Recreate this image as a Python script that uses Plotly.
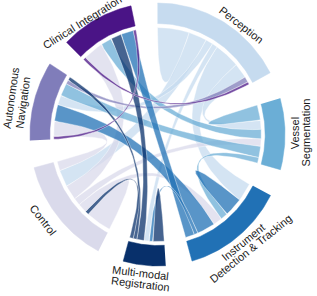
import numpy as np
import plotly.graph_objects as go

# ---------------- data ----------------
groups = ["Perception", "Vessel Segmentation", "Instrument Detection & Tracking",
          "Multi-modal Registration", "Control", "Autonomous Navigation", "Clinical Integration"]
label_lines = [["Perception"], ["Vessel", "Segmentation"], ["Instrument", "Detection & Tracking"],
               ["Multi-modal", "Registration"], ["Control"], ["Autonomous", "Navigation"],
               ["Clinical Integration"]]
group_colors = ["#c6dbef", "#6baed6", "#2171b5", "#08306b", "#dadaeb", "#807dba", "#4a1486"]

# chords (group indices: 0 P, 1 V, 2 I, 3 M, 4 C, 5 A, 6 CI), listed in drawing order
chord_a = [0, 0, 0, 0, 0, 0, 4, 4, 4, 4, 4, 1, 1, 1, 1, 5, 2, 2, 2, 2, 3, 3, 3, 3, 6, 6]
chord_b = [0, 4, 2, 1, 5, 3, 4, 6, 5, 1, 2, 1, 5, 6, 2, 0, 2, 5, 6, 3, 3, 6, 5, 4, 0, 5]
value_a = [17.5, 10, 14, 8, 4, 3, 14, 8, 5, 4, 5, 8, 6, 5, 3, 2, 10, 10, 5, 2, 6, 4, 2, 2, 1.5, 1.5]
value_b = [17.5, 9, 10, 5, 5, 3, 14, 11, 8, 4, 5, 8, 7, 6, 4, 3, 10, 9, 7, 2, 6, 6, 2, 2, 1.5, 1.5]
chord_color = [0, 0, 0, 0, 0, 0, 4, 4, 4, 4, 4, 1, 1, 1, 1, 5, 2, 2, 2, 2, 3, 3, 3, 3, 6, 6]
# clockwise slot of each chord end inside its group
slot_a = [0, 1, 4, 5, 2, 3, 0, 4, 6, 3, 2, 0, 5, 2, 5, 4, 1, 4, 6, 5, 0, 3, 4, 5, 0, 5]
slot_b = [0, 5, 0, 1, 3, 2, 0, 1, 1, 4, 3, 0, 3, 2, 2, 6, 1, 2, 4, 1, 0, 3, 6, 1, 7, 0]

# ---------------- layout (d3.chord-like) ----------------
n = len(groups)
pad = np.deg2rad(12)
ends = {g: [] for g in range(n)}
for i in range(len(chord_a)):
    ends[chord_a[i]].append((slot_a[i], i, "a", value_a[i]))
    if chord_a[i] != chord_b[i]:
        ends[chord_b[i]].append((slot_b[i], i, "b", value_b[i]))
totals = [sum(e[3] for e in ends[g]) for g in range(n)]
k = (2 * np.pi - n * pad) / sum(totals)

group_span = []
end_angles = {}
x = 0.0
for g in range(n):
    x0 = x
    for s, i, side, v in sorted(ends[g]):
        end_angles[(i, side)] = (x, x + v * k)
        x += v * k
    group_span.append((x0, x))
    x += pad

R_RIB, R_IN, R_OUT = 107, 111, 131.5


def pt(r, a):
    return np.array([r * np.sin(a), r * np.cos(a)])


def arc(r, a0, a1, m=48):
    t = np.linspace(a0, a1, m)
    return np.column_stack([r * np.sin(t), r * np.cos(t)])


def bez(p0, p2, m=48):
    t = np.linspace(0, 1, m)[:, None]
    return (1 - t) ** 2 * p0 + t ** 2 * p2


def rgba(hx, a):
    hx = hx.lstrip("#")
    return "rgba(%d,%d,%d,%.2f)" % (int(hx[0:2], 16), int(hx[2:4], 16), int(hx[4:6], 16), a)


fig = go.Figure()

for i in range(len(chord_a)):
    s0, s1 = end_angles[(i, "a")]
    if chord_a[i] == chord_b[i]:
        pts = np.vstack([arc(R_RIB, s0, s1), bez(pt(R_RIB, s1), pt(R_RIB, s0))])
    else:
        t0, t1 = end_angles[(i, "b")]
        pts = np.vstack([arc(R_RIB, s0, s1), bez(pt(R_RIB, s1), pt(R_RIB, t0)),
                         arc(R_RIB, t0, t1), bez(pt(R_RIB, t1), pt(R_RIB, s0))])
    fig.add_trace(go.Scatter(x=pts[:, 0], y=pts[:, 1], mode="lines", fill="toself",
                             fillcolor=rgba(group_colors[chord_color[i]], 0.75),
                             line=dict(color="rgba(255,255,255,0.7)", width=0.6),
                             hoverinfo="skip", showlegend=False))

for g in range(n):
    a0, a1 = group_span[g]
    pts = np.vstack([arc(R_OUT, a0, a1), arc(R_IN, a1, a0)])
    fig.add_trace(go.Scatter(x=pts[:, 0], y=pts[:, 1], mode="lines", fill="toself",
                             fillcolor=group_colors[g], line=dict(color=group_colors[g], width=0.5),
                             hoverinfo="skip", showlegend=False))

# page geometry: the reference circle is slightly narrower than tall
W, H = 317, 296
cx, cy, sx = 157.5, 134.5, 0.97

# labels: per line (angle deg, radius) and rotation per group (styling)
label_pos = [[(51.7, 139.5)],
             [(0.6, 142.0), (0.9, 153.5)],
             [(-50.5, 139.0), (-49.6, 149.5)],
             [(-97.0, 140.0), (-96.6, 151.0)],
             [(-144.0, 146.0)],
             [(166.4, 155.5), (167.2, 142.5)],
             [(124.5, 136.5)]]
label_rot = [38, -90, -39, 7, 52, -82, -32]
annotations = []
for g in range(n):
    for txt, (th, r) in zip(label_lines[g], label_pos[g]):
        t = np.deg2rad(th)
        px = cx + r * np.cos(t) * sx
        py = cy - r * np.sin(t)
        annotations.append(dict(x=px / W, y=1 - py / H, xref="paper", yref="paper", text=txt,
                                showarrow=False, textangle=label_rot[g],
                                xanchor="center", yanchor="middle", borderpad=0,
                                font=dict(family="Liberation Sans, Arial, sans-serif", size=11,
                                          color="#1a1a1a")))

fig.update_layout(width=W, height=H, margin=dict(l=0, r=0, t=0, b=0),
                  paper_bgcolor="white", plot_bgcolor="white",
                  xaxis=dict(range=[-cx / sx, (W - cx) / sx], visible=False, fixedrange=True),
                  yaxis=dict(range=[-(H - cy), cy], visible=False, fixedrange=True),
                  annotations=annotations, showlegend=False)

fig.write_html("out.html", config={"displayModeBar": False},
               post_script="document.body.style.margin='0px';document.body.style.overflow='hidden';")
